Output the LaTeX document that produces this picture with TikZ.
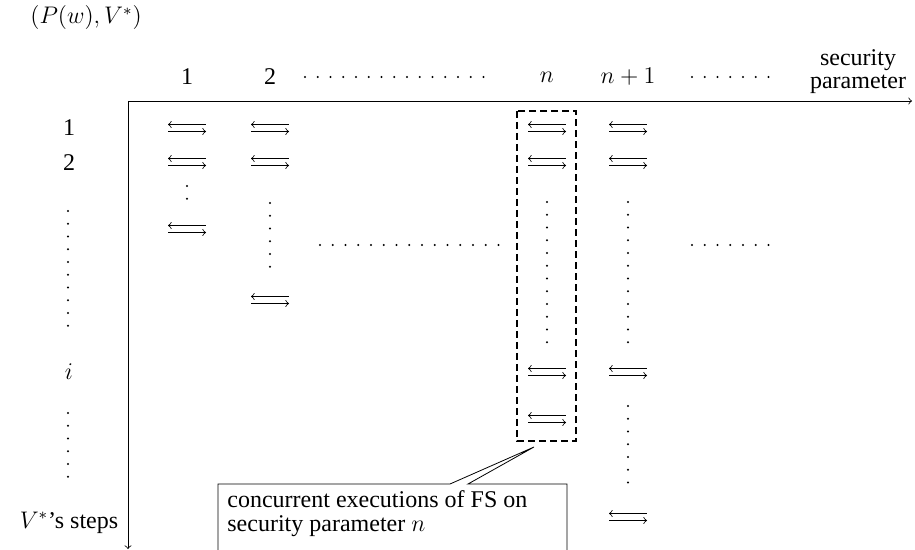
\documentclass[tikz,border=0pt]{standalone}
\usepackage[no-math]{fontspec}
\setmainfont{Liberation Serif}
\begin{document}
\begin{tikzpicture}[x=0.5pt,y=-0.5pt,
  font=\fontsize{12}{14.5}\selectfont,
  axis/.style={line width=0.4pt,->},
  lbl/.style={inner sep=0pt},
  group/.style={line width=1pt,dash pattern=on 3.5pt off 2pt},
  xchg/.pic={
    \draw[line width=0.4pt,<-] (-19,-3.5) -- (19,-3.5);
    \draw[line width=0.4pt,->] (-19,3.5) -- (19,3.5);
  }]
\useasboundingbox (0,0) rectangle (915,550);

% dot helpers: horizontal and vertical runs of dots
\newcommand\hdots[4]{\foreach \k in {1,...,#4}{\fill ({#1+(\k-1)*12.75},#2) circle (0.55pt);}}
\newcommand\vdotrun[4]{\foreach \k in {1,...,#4}{\fill (#1,{#2+(\k-1)*12.75}) circle (0.55pt);}}

% title
\node[lbl,anchor=west] (title) at (30,18) {$(P(w),V^*)$};

% axes
\coordinate (o) at (128,101);
\coordinate (xend) at (912,101);
\coordinate (yend) at (128,549);
\draw[axis] (o) -- (xend);
\draw[axis] (o) -- (yend);

% column headers
\node[lbl] (c1) at (187,77) {1};
\node[lbl] (c2) at (270,77) {2};
\node[lbl] (cn) at (547,77) {$n$};
\node[lbl] (cn1) at (628,77) {$n+1$};
\node[lbl,align=center] (sp) at (858,72) {security\\[-3pt]parameter};
\hdots{305}{77}{0}{15}
\hdots{692}{77}{0}{7}

% row labels
\node[lbl] (r1) at (69,128) {1};
\node[lbl] (r2) at (69,163) {2};
\node[lbl] (ri) at (69,372) {$i$};
\node[lbl] (rs) at (69,523) {$V^*$'s steps};
\vdotrun{68}{211}{0}{10}
\vdotrun{68}{413}{0}{6}

% column 1
\pic at (187,128) {xchg};
\pic at (187,162) {xchg};
\vdotrun{187}{186}{0}{2}
\pic at (187,229) {xchg};

% column 2
\pic at (270,128) {xchg};
\pic at (270,162) {xchg};
\vdotrun{270}{203}{0}{6}
\pic at (270,300) {xchg};

% middle dots
\hdots{320}{245}{0}{15}
\hdots{692}{245}{0}{7}

% column n
\pic at (547,128) {xchg};
\pic at (547,162) {xchg};
\vdotrun{547}{202}{0}{12}
\pic at (547,372) {xchg};
\pic at (547,419) {xchg};
\draw[group] (517,111) rectangle (576,441);

% column n+1
\pic at (628,128) {xchg};
\pic at (628,162) {xchg};
\vdotrun{628}{202}{0}{12}
\pic at (628,372) {xchg};
\vdotrun{628}{406}{0}{7}
\pic at (628,517) {xchg};

% callout
\node[lbl,anchor=north west,align=left] (note) at (227,490)
  {concurrent executions of FS on\\[-2.5pt]security parameter $n$};
\coordinate (tip) at (534,447);
\draw[line width=0.4pt] (218,550) -- (218,484) -- (450,484) -- (tip)
  -- (468,484) -- (567,484) -- (567,550);
\end{tikzpicture}
\end{document}
